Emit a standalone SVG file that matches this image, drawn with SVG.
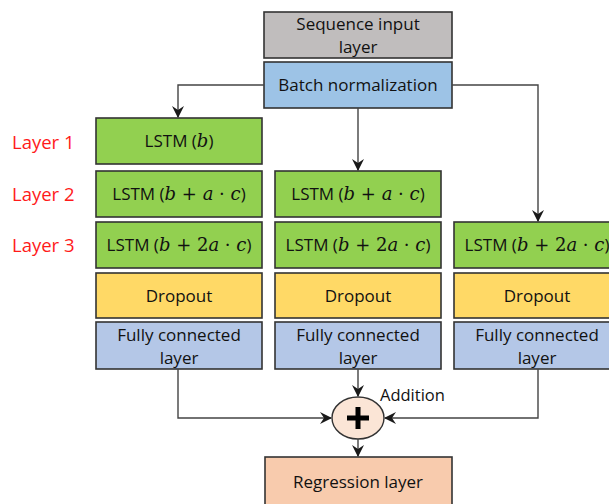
<svg xmlns="http://www.w3.org/2000/svg" width="609" height="504" viewBox="0 0 609 504">
<defs>
<marker id="arr" viewBox="0 0 12 12" refX="11" refY="6" markerWidth="12" markerHeight="12" markerUnits="userSpaceOnUse" orient="auto">
<path d="M0,0 L12,6 L0,12 L4,6 Z" fill="#1a1a1a"/>
</marker>
<style>
.box{stroke:#333;stroke-width:1.6}
.t{font-family:"Open Sans","Liberation Sans",sans-serif;font-size:17px;fill:#111;text-anchor:middle}
.m{font-family:"DejaVu Serif","Liberation Serif",serif;font-style:italic;font-size:18px}
.o{font-family:"DejaVu Serif","Liberation Serif",serif;font-size:18px}
.lbl{font-family:"Open Sans","Liberation Sans",sans-serif;font-size:18.5px;fill:#ff1a1a}
.c{fill:none;stroke:#444;stroke-width:1.4}
.lstm{fill:#92d050}.drop{fill:#ffd966}.fc{fill:#b4c7e7}
</style>
</defs>
<rect width="609" height="504" fill="#fff"/>
<g id="labels">
<text class="lbl" x="12" y="149">Layer 1</text>
<text class="lbl" x="12" y="201">Layer 2</text>
<text class="lbl" x="12" y="252">Layer 3</text>
</g>
<g id="input"><rect class="box" x="264" y="12" width="188" height="46" fill="#c0bdbd"/><text class="t" x="358" y="30">Sequence input</text><text class="t" x="358" y="53">layer</text></g>
<g id="batchnorm"><rect class="box" x="264" y="62" width="188" height="46" fill="#9dc3e6"/><text class="t" x="358" y="91">Batch normalization</text></g>
<g id="c1l1"><rect class="box lstm" x="96" y="118" width="166" height="46"/><text class="t" x="179" y="147">LSTM (<tspan class="m">b</tspan>)</text></g>
<g id="c1l2"><rect class="box lstm" x="96" y="171" width="166" height="46"/><text class="t" x="179" y="200">LSTM (<tspan class="m">b</tspan><tspan class="o"> + </tspan><tspan class="m">a</tspan><tspan class="o"> · </tspan><tspan class="m">c</tspan>)</text></g>
<g id="c1l3"><rect class="box lstm" x="96" y="222" width="166" height="46"/><text class="t" x="179" y="251">LSTM (<tspan class="m">b</tspan><tspan class="o"> + 2</tspan><tspan class="m">a</tspan><tspan class="o"> · </tspan><tspan class="m">c</tspan>)</text></g>
<g id="c1drop"><rect class="box drop" x="96" y="273" width="166" height="45"/><text class="t" x="179" y="302">Dropout</text></g>
<g id="c1fc"><rect class="box fc" x="96" y="322" width="166" height="47"/><text class="t" x="179" y="341">Fully connected</text><text class="t" x="179" y="364">layer</text></g>
<g id="c2l2"><rect class="box lstm" x="275" y="171" width="166" height="46"/><text class="t" x="358" y="200">LSTM (<tspan class="m">b</tspan><tspan class="o"> + </tspan><tspan class="m">a</tspan><tspan class="o"> · </tspan><tspan class="m">c</tspan>)</text></g>
<g id="c2l3"><rect class="box lstm" x="275" y="222" width="166" height="46"/><text class="t" x="358" y="251">LSTM (<tspan class="m">b</tspan><tspan class="o"> + 2</tspan><tspan class="m">a</tspan><tspan class="o"> · </tspan><tspan class="m">c</tspan>)</text></g>
<g id="c2drop"><rect class="box drop" x="275" y="273" width="166" height="45"/><text class="t" x="358" y="302">Dropout</text></g>
<g id="c2fc"><rect class="box fc" x="275" y="322" width="166" height="47"/><text class="t" x="358" y="341">Fully connected</text><text class="t" x="358" y="364">layer</text></g>
<g id="c3l3"><rect class="box lstm" x="454" y="222" width="166" height="46"/><text class="t" x="537" y="251">LSTM (<tspan class="m">b</tspan><tspan class="o"> + 2</tspan><tspan class="m">a</tspan><tspan class="o"> · </tspan><tspan class="m">c</tspan>)</text></g>
<g id="c3drop"><rect class="box drop" x="454" y="273" width="166" height="45"/><text class="t" x="537" y="302">Dropout</text></g>
<g id="c3fc"><rect class="box fc" x="454" y="322" width="166" height="47"/><text class="t" x="537" y="341">Fully connected</text><text class="t" x="537" y="364">layer</text></g>
<g id="addition"><ellipse cx="358" cy="418" rx="26" ry="21" fill="#fbe5d6" stroke="#333" stroke-width="1.4"/><path d="M347,418 H369 M358,407 V429" stroke="#000" stroke-width="5"/><text x="380" y="401" style="font-family:'Open Sans','Liberation Sans',sans-serif;font-size:16.5px;fill:#111">Addition</text></g>
<g id="regression"><rect class="box" x="265" y="457" width="187" height="52" fill="#f8cbad"/><text class="t" x="358" y="488">Regression layer</text></g>
<g id="connectors">
<path class="c" d="M264,85 H178 V117" marker-end="url(#arr)"/>
<path class="c" d="M358,108 V170" marker-end="url(#arr)"/>
<path class="c" d="M452,85 H538 V221" marker-end="url(#arr)"/>
<path class="c" d="M178,369 V418 H331" marker-end="url(#arr)"/>
<path class="c" d="M358,369 V396" marker-end="url(#arr)"/>
<path class="c" d="M538,369 V418 H385" marker-end="url(#arr)"/>
<path class="c" d="M358,439 V456" marker-end="url(#arr)"/>
</g>
</svg>
